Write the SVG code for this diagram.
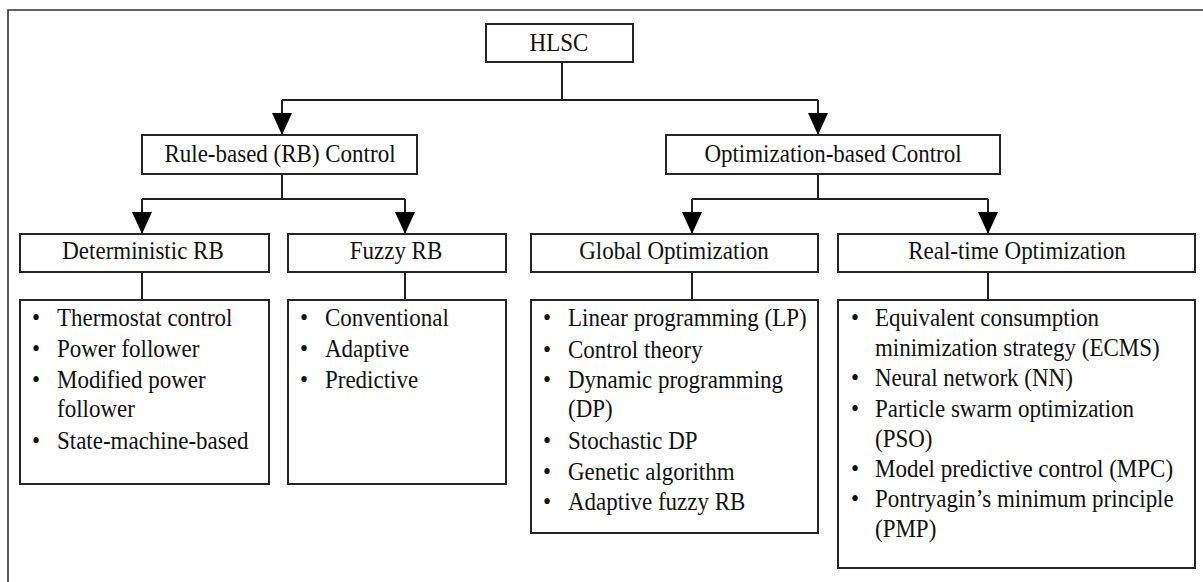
<svg xmlns="http://www.w3.org/2000/svg" width="1203" height="582" viewBox="0 0 1203 582">
<defs>
<style>
.box{fill:#fff;stroke:#262626;stroke-width:2}
.ln{fill:none;stroke:#1e1e1e;stroke-width:2}
.t{font-family:"Liberation Serif","Times New Roman",serif;font-size:23px;fill:#111}
.c{text-anchor:middle}
</style>
<marker id="ah" viewBox="0 0 22 20" refX="22" refY="10" markerWidth="22" markerHeight="20" markerUnits="userSpaceOnUse" orient="auto">
<path d="M0,0 L22,10 L0,20 Z" fill="#000"/>
</marker>
</defs>
<rect x="0" y="0" width="1203" height="582" fill="#fff"/>
<path d="M8,582 L8,10 L1203,10" fill="none" stroke="#333" stroke-width="1.6"/>

<g id="connectors">
<path class="ln" d="M562,62 L562,100"/>
<path class="ln" d="M282,100 L818,100"/>
<path class="ln" d="M282,100 L282,135" marker-end="url(#ah)"/>
<path class="ln" d="M818,100 L818,135" marker-end="url(#ah)"/>
<path class="ln" d="M282,174 L282,199"/>
<path class="ln" d="M142,199 L405,199"/>
<path class="ln" d="M142,199 L142,234" marker-end="url(#ah)"/>
<path class="ln" d="M405,199 L405,234" marker-end="url(#ah)"/>
<path class="ln" d="M818,174 L818,199"/>
<path class="ln" d="M692,199 L988,199"/>
<path class="ln" d="M692,199 L692,234" marker-end="url(#ah)"/>
<path class="ln" d="M988,199 L988,234" marker-end="url(#ah)"/>
<path class="ln" d="M142,272 L142,300"/>
<path class="ln" d="M405,272 L405,300"/>
<path class="ln" d="M692,272 L692,300"/>
<path class="ln" d="M988,272 L988,300"/>
</g>

<g id="hlsc">
<rect class="box" x="486" y="24" width="147" height="38"/>
<text class="t c" x="559" y="51" transform="matrix(1 0 0 1.1 0 -5.1)">HLSC</text>
</g>

<g id="rb">
<rect class="box" x="142" y="135" width="275" height="39"/>
<text class="t c" x="280" y="162" transform="matrix(1 0 0 1.1 0 -16.2)">Rule-based (RB) Control</text>
</g>

<g id="ob">
<rect class="box" x="666" y="135" width="334" height="39"/>
<text class="t c" x="833" y="162" transform="matrix(1 0 0 1.1 0 -16.2)">Optimization-based Control</text>
</g>

<g id="det">
<rect class="box" x="20" y="234" width="249" height="38"/>
<text class="t c" x="143" y="259" transform="matrix(1 0 0 1.1 0 -25.9)">Deterministic RB</text>
</g>

<g id="fuzzy">
<rect class="box" x="288" y="234" width="218" height="38"/>
<text class="t c" x="396" y="259" transform="matrix(1 0 0 1.1 0 -25.9)">Fuzzy RB</text>
</g>

<g id="global">
<rect class="box" x="531" y="234" width="287" height="38"/>
<text class="t c" x="674" y="259" transform="matrix(1 0 0 1.1 0 -25.9)">Global Optimization</text>
</g>

<g id="realtime">
<rect class="box" x="838" y="234" width="357" height="38"/>
<text class="t c" x="1017" y="259" transform="matrix(1 0 0 1.1 0 -25.9)">Real-time Optimization</text>
</g>

<g id="det-list">
<rect class="box" x="20" y="300" width="249" height="184"/>
<text class="t" x="32" y="326" transform="matrix(1 0 0 1.1 0 -32.6)">•</text><text class="t" x="57" y="326" transform="matrix(1 0 0 1.1 0 -32.6)">Thermostat control</text>
<text class="t" x="32" y="357" transform="matrix(1 0 0 1.1 0 -35.7)">•</text><text class="t" x="57" y="357" transform="matrix(1 0 0 1.1 0 -35.7)">Power follower</text>
<text class="t" x="32" y="388" transform="matrix(1 0 0 1.1 0 -38.8)">•</text><text class="t" x="57" y="388" transform="matrix(1 0 0 1.1 0 -38.8)">Modified power</text>
<text class="t" x="57" y="417" transform="matrix(1 0 0 1.1 0 -41.7)">follower</text>
<text class="t" x="32" y="449" transform="matrix(1 0 0 1.1 0 -44.9)">•</text><text class="t" x="57" y="449" transform="matrix(1 0 0 1.1 0 -44.9)">State-machine-based</text>
</g>

<g id="fuzzy-list">
<rect class="box" x="288" y="300" width="218" height="184"/>
<text class="t" x="300" y="326" transform="matrix(1 0 0 1.1 0 -32.6)">•</text><text class="t" x="325" y="326" transform="matrix(1 0 0 1.1 0 -32.6)">Conventional</text>
<text class="t" x="300" y="357" transform="matrix(1 0 0 1.1 0 -35.7)">•</text><text class="t" x="325" y="357" transform="matrix(1 0 0 1.1 0 -35.7)">Adaptive</text>
<text class="t" x="300" y="388" transform="matrix(1 0 0 1.1 0 -38.8)">•</text><text class="t" x="325" y="388" transform="matrix(1 0 0 1.1 0 -38.8)">Predictive</text>
</g>

<g id="global-list">
<rect class="box" x="531" y="300" width="287" height="233"/>
<text class="t" x="543" y="326" transform="matrix(1 0 0 1.1 0 -32.6)">•</text><text class="t" x="568" y="326" transform="matrix(1 0 0 1.1 0 -32.6)">Linear programming (LP)</text>
<text class="t" x="543" y="358" transform="matrix(1 0 0 1.1 0 -35.8)">•</text><text class="t" x="568" y="358" transform="matrix(1 0 0 1.1 0 -35.8)">Control theory</text>
<text class="t" x="543" y="388" transform="matrix(1 0 0 1.1 0 -38.8)">•</text><text class="t" x="568" y="388" transform="matrix(1 0 0 1.1 0 -38.8)">Dynamic programming</text>
<text class="t" x="568" y="417" transform="matrix(1 0 0 1.1 0 -41.7)">(DP)</text>
<text class="t" x="543" y="449" transform="matrix(1 0 0 1.1 0 -44.9)">•</text><text class="t" x="568" y="449" transform="matrix(1 0 0 1.1 0 -44.9)">Stochastic DP</text>
<text class="t" x="543" y="480" transform="matrix(1 0 0 1.1 0 -48)">•</text><text class="t" x="568" y="480" transform="matrix(1 0 0 1.1 0 -48)">Genetic algorithm</text>
<text class="t" x="543" y="510" transform="matrix(1 0 0 1.1 0 -51)">•</text><text class="t" x="568" y="510" transform="matrix(1 0 0 1.1 0 -51)">Adaptive fuzzy RB</text>
</g>

<g id="realtime-list">
<rect class="box" x="838" y="300" width="357" height="268"/>
<text class="t" x="851" y="326" transform="matrix(1 0 0 1.1 0 -32.6)">•</text><text class="t" x="875" y="326" transform="matrix(1 0 0 1.1 0 -32.6)">Equivalent consumption</text>
<text class="t" x="875" y="356" transform="matrix(1 0 0 1.1 0 -35.6)">minimization strategy (ECMS)</text>
<text class="t" x="851" y="386" transform="matrix(1 0 0 1.1 0 -38.6)">•</text><text class="t" x="875" y="386" transform="matrix(1 0 0 1.1 0 -38.6)">Neural network (NN)</text>
<text class="t" x="851" y="417" transform="matrix(1 0 0 1.1 0 -41.7)">•</text><text class="t" x="875" y="417" transform="matrix(1 0 0 1.1 0 -41.7)">Particle swarm optimization</text>
<text class="t" x="875" y="447" transform="matrix(1 0 0 1.1 0 -44.7)">(PSO)</text>
<text class="t" x="851" y="477" transform="matrix(1 0 0 1.1 0 -47.7)">•</text><text class="t" x="875" y="477" transform="matrix(1 0 0 1.1 0 -47.7)">Model predictive control (MPC)</text>
<text class="t" x="851" y="507" transform="matrix(1 0 0 1.1 0 -50.7)">•</text><text class="t" x="875" y="507" transform="matrix(1 0 0 1.1 0 -50.7)">Pontryagin’s minimum principle</text>
<text class="t" x="875" y="537" transform="matrix(1 0 0 1.1 0 -53.7)">(PMP)</text>
</g>
</svg>
